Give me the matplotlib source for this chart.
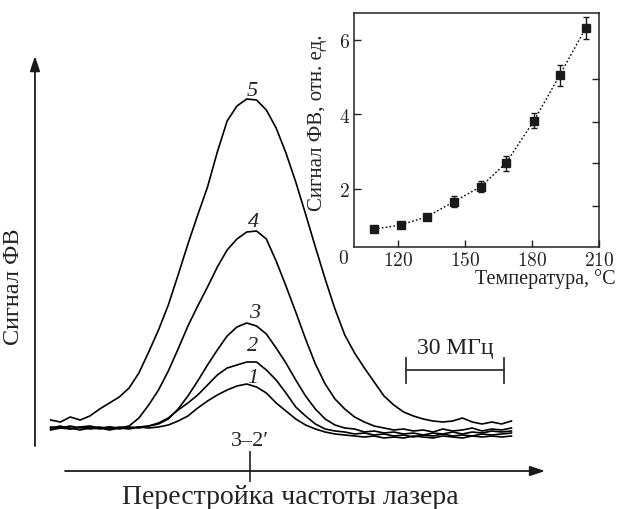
import matplotlib
matplotlib.use("Agg")
import matplotlib.pyplot as plt
import numpy as np

# ---------------- data ----------------
# laser detuning (MHz) relative to the 3-2' transition
freq_mhz = [-61, -58, -55, -52, -49, -46, -43, -40, -37, -34, -31, -28, -25, -22, -19, -16,
            -13, -10, -7, -4, -1, 2, 5, 8, 11, 14, 17, 20, 23, 26, 29, 32,
            35, 38, 41, 44, 47, 50, 53, 56, 59, 62, 65, 68, 71, 74, 77, 80]

# photovoltaic signal (arb. units) for curves 1..5
sig1 = [-0.02, 0.02, 0.00, 0.04, 0.00, 0.02, -0.02, 0.02, 0.00, 0.04, 0.02, 0.04, 0.08, 0.16, 0.26, 0.42,
        0.56, 0.68, 0.78, 0.86, 0.90, 0.84, 0.72, 0.52, 0.36, 0.20, 0.08, 0.00, -0.06, -0.10, -0.12, -0.14,
        -0.16, -0.14, -0.18, -0.16, -0.18, -0.14, -0.16, -0.18, -0.14, -0.16, -0.18, -0.14, -0.16, -0.14, -0.16, -0.14]
sig2 = [0.00, 0.04, 0.02, -0.02, 0.02, 0.04, 0.00, 0.04, 0.02, 0.04, 0.06, 0.12, 0.22, 0.38, 0.52, 0.68,
        0.88, 1.08, 1.22, 1.28, 1.34, 1.34, 1.18, 0.98, 0.72, 0.44, 0.26, 0.10, 0.00, -0.04, -0.06, -0.10,
        -0.08, -0.12, -0.10, -0.14, -0.12, -0.16, -0.12, -0.14, -0.10, -0.14, -0.12, -0.14, -0.10, -0.12, -0.10, -0.08]
sig3 = [0.02, 0.06, 0.00, 0.04, 0.06, 0.02, 0.04, 0.00, 0.04, 0.02, 0.06, 0.10, 0.20, 0.40, 0.66, 0.96,
        1.28, 1.58, 1.86, 2.04, 2.12, 2.06, 1.90, 1.62, 1.32, 0.98, 0.66, 0.40, 0.20, 0.08, 0.02, 0.00,
        -0.06, -0.04, -0.08, -0.06, -0.10, -0.08, -0.12, -0.08, -0.10, -0.06, -0.10, -0.06, -0.08, -0.04, -0.06, -0.04]
sig4 = [0.04, 0.02, 0.06, 0.02, 0.04, 0.00, 0.04, 0.02, 0.06, 0.22, 0.48, 0.78, 1.16, 1.60, 2.06, 2.46,
        2.84, 3.24, 3.58, 3.80, 3.94, 3.96, 3.80, 3.36, 2.86, 2.34, 1.80, 1.30, 0.90, 0.60, 0.40, 0.24,
        0.14, 0.06, 0.02, -0.02, 0.00, -0.04, -0.02, -0.06, 0.00, -0.04, -0.02, 0.02, -0.04, 0.00, -0.02, 0.02]
sig5 = [0.18, 0.14, 0.24, 0.18, 0.26, 0.40, 0.52, 0.64, 0.82, 1.12, 1.54, 1.98, 2.48, 3.08, 3.70, 4.28,
        4.84, 5.54, 6.16, 6.46, 6.60, 6.58, 6.38, 6.02, 5.52, 4.94, 4.30, 3.64, 3.00, 2.40, 1.88, 1.52,
        1.22, 0.94, 0.66, 0.48, 0.34, 0.26, 0.20, 0.16, 0.14, 0.16, 0.22, 0.14, 0.10, 0.14, 0.10, 0.16]
curve_labels = ["1", "2", "3", "4", "5"]

# inset: signal vs temperature
temp_c = [109.3, 121.2, 132.9, 145.1, 157.1, 168.3, 180.9, 192.4, 204.0]
sig_t = [0.92, 1.03, 1.25, 1.66, 2.06, 2.69, 3.83, 5.05, 6.31]
sig_t_err = [0.03, 0.04, 0.05, 0.14, 0.15, 0.20, 0.20, 0.28, 0.29]
inset_xticks = [120, 150, 180, 210]
inset_yticks = [2, 4, 6]
inset_right_ticks = [1.54, 2.69, 3.79, 4.95]

# ---------------- figure ----------------
W, H = 617, 510
plt.rcParams["mathtext.fontset"] = "cm"
fig = plt.figure(figsize=(W / 100, H / 100), dpi=100)
serif = ["Liberation Serif", "DejaVu Serif"]
tc = "#222222"

ax = fig.add_axes([0, 0, 1, 1])
ax.set_xlim(-76.5, 112.3)
ax.set_ylim(-1.6, 8.6)
ax.axis("off")

sigs = [sig1, sig2, sig3, sig4, sig5]
lab_pos = [(0.9, 1.02), (0.9, 1.66), (1.5, 2.32), (1.2, 4.14), (0.6, 6.76)]
for s, lab, (lx, ly) in zip(sigs, curve_labels, lab_pos):
    ax.plot(freq_mhz, s, color="black", lw=1.2, solid_joinstyle="round")
    ax.text(lx, ly, lab, ha="center", va="center", fontsize=16,
            family=serif, style="italic", color=tc)

axc = "#333333"
arrow = dict(arrowstyle="-|>,head_length=0.9,head_width=0.3",
             color="#1a1a1a", lw=1.3, shrinkA=0, shrinkB=0)
ax.annotate("", xy=(-65.8, 7.46), xytext=(-65.8, -0.34), arrowprops=arrow)
ax.annotate("", xy=(90.3, -0.84), xytext=(-56.6, -0.84), arrowprops=arrow)
ax.plot([0, 0], [-0.46, -1.04], color=axc, lw=1.3)
ax.text(0, -0.24, "3–2′", ha="center", va="center", fontsize=16, family=serif, color=tc)
ax.plot([47.75, 77.75], [1.18, 1.18], color=axc, lw=1.3)
ax.plot([47.75, 47.75], [0.92, 1.42], color=axc, lw=1.3)
ax.plot([77.75, 77.75], [0.92, 1.42], color=axc, lw=1.3)
ax.text(62.75, 1.62, "30 МГц", ha="center", va="center", fontsize=17, family=serif, color=tc)

fig.text(290 / W, 1 - 498 / H, "Перестройка частоты лазера", ha="center", va="center",
         fontsize=20, family=serif, color=tc)
fig.text(14 / W, 1 - 287 / H, "Сигнал ФВ", ha="center", va="center", rotation=90,
         fontsize=17.5, family=serif, color=tc)

# ---------------- inset ----------------
ins = fig.add_axes([354 / W, 1 - 248 / H, (599 - 354) / W, (248 - 14) / H])
ins.set_xlim(100.3, 209.6)
ins.set_ylim(0.44, 6.72)
ins.plot(temp_c, sig_t, linestyle=(0, (1.2, 1.6)), color="black", lw=1.0)
ins.errorbar(temp_c, sig_t, yerr=sig_t_err, fmt="s", color="#1a1a1a", ms=5.5,
             capsize=2.5, elinewidth=1.0, capthick=1.0)
for sp in ins.spines.values():
    sp.set_linewidth(1.1)
    sp.set_color(tc)
ins.set_xticks(inset_xticks)
ins.set_xticklabels([f"${t}$" for t in inset_xticks], fontsize=14)
ins.set_yticks(inset_yticks)
ins.set_yticklabels([f"${t}$" for t in inset_yticks], fontsize=14)
ins.tick_params(direction="in", length=5, width=1.0, colors=tc, pad=3)
ins.tick_params(axis="x", pad=2)
rt = ins.secondary_yaxis("right")
rt.set_yticks(inset_right_ticks)
rt.set_yticklabels([])
rt.tick_params(direction="in", length=5, width=1.0, colors=tc)
rt.spines["right"].set_visible(False)
fig.text(343 / W, 1 - 258 / H, "$0$", ha="center", va="center", fontsize=14, color=tc)
ins.set_ylabel("Сигнал ФВ, отн. ед.", family=serif, fontsize=15, color=tc)
ins.yaxis.set_label_coords(-0.11, 0.534)
fig.text(616 / W, 1 - 279 / H, "Температура, °C", ha="right", va="center",
         family=serif, fontsize=14.5, color=tc)

fig.savefig("out.png", dpi=100)
